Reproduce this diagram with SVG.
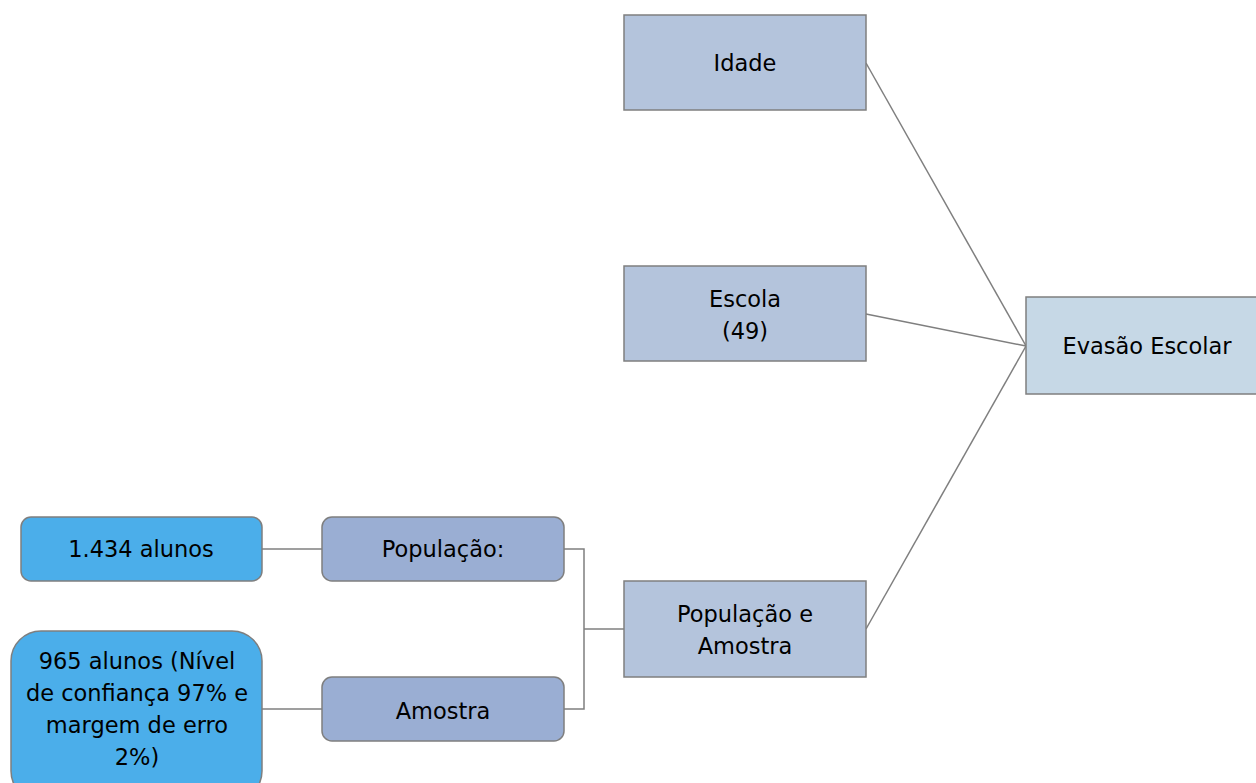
<svg xmlns="http://www.w3.org/2000/svg" width="1256" height="783" viewBox="0 0 1256 783">
<style>
text{font-family:"DejaVu Sans",Verdana,sans-serif;font-size:22.5px;fill:#000;text-anchor:middle}
.sq{fill:#b4c4dc;stroke:#7f7f7f;stroke-width:1.5}
.ev{fill:#c6d8e6;stroke:#7f7f7f;stroke-width:1.5}
.rr{fill:#9aaed3;stroke:#7f7f7f;stroke-width:1.5}
.bl{fill:#4baeea;stroke:#7f7f7f;stroke-width:1.5}
.c{fill:none;stroke:#7f7f7f;stroke-width:1.5}
</style>
<rect width="1256" height="783" fill="#fff"/>
<g id="connectors">
<line class="c" x1="866" y1="63" x2="1026" y2="346"/>
<line class="c" x1="866" y1="314" x2="1026" y2="346"/>
<line class="c" x1="866" y1="629" x2="1026" y2="346"/>
<polyline class="c" points="564,549 584,549 584,709 564,709"/>
<line class="c" x1="584" y1="629" x2="624" y2="629"/>
<line class="c" x1="262" y1="549" x2="322" y2="549"/>
<line class="c" x1="262" y1="709" x2="322" y2="709"/>
</g>
<g id="idade"><rect class="sq" x="624" y="15" width="242" height="95"/><text x="745" y="71">Idade</text></g>
<g id="escola"><rect class="sq" x="624" y="266" width="242" height="95"/><text x="745" y="307">Escola</text><text x="745" y="339">(49)</text></g>
<g id="evasao"><rect class="ev" x="1026" y="297" width="240" height="97"/><text x="1147" y="354">Evasão Escolar</text></g>
<g id="popamostra"><rect class="sq" x="624" y="581" width="242" height="96"/><text x="745" y="622">População e</text><text x="745" y="654">Amostra</text></g>
<g id="populacao"><rect class="rr" x="322" y="517" width="242" height="64" rx="10"/><text x="443" y="557">População:</text></g>
<g id="amostra"><rect class="rr" x="322" y="677" width="242" height="64" rx="10"/><text x="443" y="719">Amostra</text></g>
<g id="alunos1434"><rect class="bl" x="21" y="517" width="241" height="64" rx="10"/><text x="141" y="557">1.434 alunos</text></g>
<g id="alunos965"><rect class="bl" x="11" y="631" width="251" height="170" rx="30"/><text x="137" y="669">965 alunos (Nível</text><text x="137" y="701">de confiança 97% e</text><text x="137" y="733">margem de erro</text><text x="137" y="765">2%)</text></g>
</svg>
